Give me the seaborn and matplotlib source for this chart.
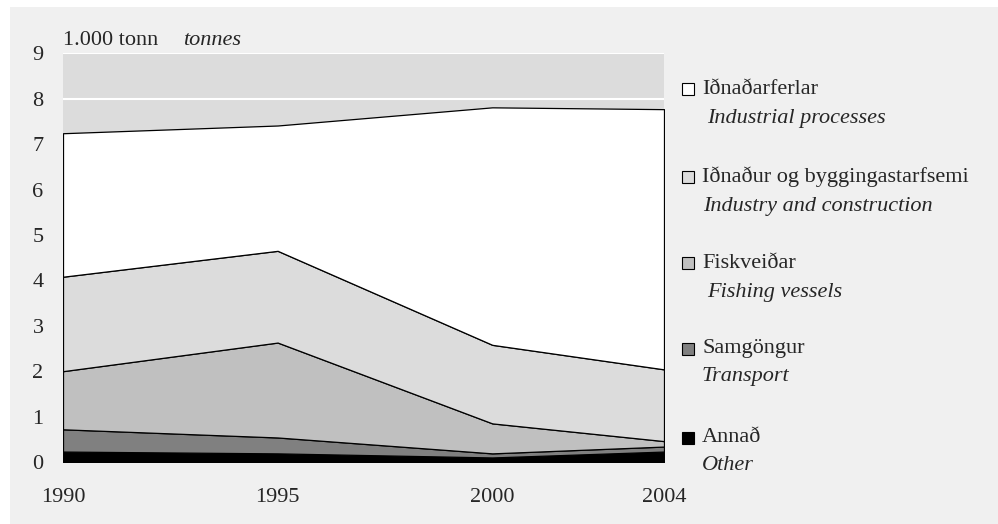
import seaborn as sns
import matplotlib.pyplot as plt
from matplotlib.patches import Rectangle

# Emissions, 1.000 tonnes
years = [1990, 1995, 2000, 2004]
other = [0.23, 0.19, 0.10, 0.23]
transport = [0.49, 0.35, 0.09, 0.11]
fishing = [1.28, 2.09, 0.66, 0.12]
industry = [2.08, 2.02, 1.73, 1.58]
processes = [3.16, 2.76, 5.23, 5.73]

labels_is = ["Iðnaðarferlar", "Iðnaður og byggingastarfsemi", "Fiskveiðar", "Samgöngur", "Annað"]
labels_en = ["Industrial processes", "Industry and construction", "Fishing vessels", "Transport", "Other"]
colors = ["#ffffff", "#dcdcdc", "#c0c0c0", "#808080", "#000000"]

sns.set_theme(style="white")
plt.rcParams['font.family'] = ['Liberation Serif', 'DejaVu Serif']
fs = 16

fig = plt.figure(figsize=(9.98, 5.24), dpi=100, facecolor="white")
fig.patches.append(Rectangle((10 / 998, 0), 1, 1 - 7 / 524, transform=fig.transFigure,
                             facecolor="#f0f0f0", edgecolor="none", zorder=-10))
ax = fig.add_axes([63 / 998, 1 - 462 / 524, (664 - 63) / 998, (462 - 53.3) / 524])
ax.set_facecolor("#dcdcdc")

ax.stackplot(years, other, transport, fishing, industry, processes,
             colors=colors[::-1], edgecolor="black", linewidth=0.9, zorder=3)

ax.set_xlim(1990, 2004)
ax.set_ylim(0, 9)
ax.set_yticks(range(10))
ax.set_xticks(years)
ax.yaxis.grid(True, color="white", linewidth=1.5, zorder=1)
ax.xaxis.grid(False)
for s in ax.spines.values():
    s.set_visible(False)
ax.tick_params(axis="y", length=0, pad=14, labelsize=fs)
ax.tick_params(axis="x", length=0, pad=19, labelsize=fs)

# unit label
ax.text(0, 1.008, "1.000 tonn", transform=ax.transAxes, fontsize=fs, va="bottom", ha="left")
ax.text((183 - 63) / 601, 1.008, "tonnes", transform=ax.transAxes, fontsize=fs, va="bottom",
        ha="left", style="italic")

# legend drawn by hand
leg_y = [89, 177, 263, 349, 438]
sub_y = [119, 207, 293, 377, 465]
sub_x = [707, 703, 707, 702, 702]
for lab, en, c, y1, y2, x2 in zip(labels_is, labels_en, colors, leg_y, sub_y, sub_x):
    fig.patches.append(Rectangle((682 / 998, 1 - (y1 + 6) / 524), 12 / 998, 12 / 524,
                                 transform=fig.transFigure, facecolor=c,
                                 edgecolor="black", linewidth=0.8))
    fig.text(702 / 998, 1 - y1 / 524, lab, fontsize=fs, va="center", ha="left")
    fig.text(x2 / 998, 1 - y2 / 524, en, fontsize=fs, va="center", ha="left", style="italic")

fig.savefig("out.png", dpi=100, facecolor=fig.get_facecolor())
